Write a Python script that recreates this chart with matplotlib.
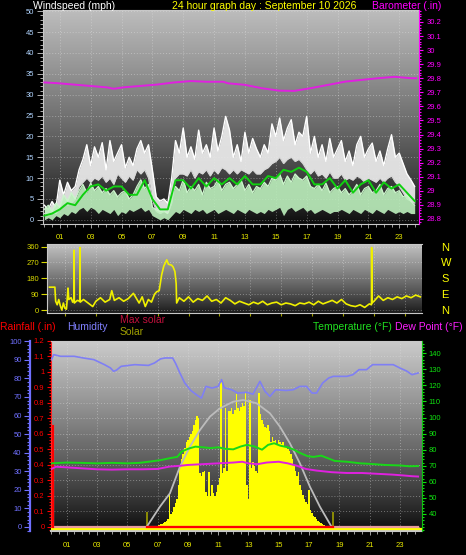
import numpy as np
import matplotlib
matplotlib.use("Agg")
import matplotlib.pyplot as plt
from matplotlib.ticker import MultipleLocator

plt.rcParams['font.family'] = ['Liberation Sans', 'DejaVu Sans']

# ---------------------------------------------------------------- data
hour_ticks = [1, 3, 5, 7, 9, 11, 13, 15, 17, 19, 21, 23]
hour_labels = ['01', '03', '05', '07', '09', '11', '13', '15', '17', '19', '21', '23']

# wind (mph), quarter-hour samples 0..24 h
wind_hours = np.arange(0, 24.01, 0.25)
gust_max = [3.5, 2.5, 4.4, 3.0,  9.5, 6.0, 9.0, 7.0,  8.0, 12.0, 14.5, 18.0,
            13.0, 17.5, 15.0, 18.5,  12.0, 19.0, 14.0, 16.0,  18.0, 12.5, 15.0, 13.0,
            17.0, 19.0, 16.0, 18.0,  12.0, 5.5, 4.5, 5.0,  4.0, 10.0, 19.0, 16.0,
            22.0, 15.0, 17.5, 14.5,  21.5, 16.0, 18.0, 15.0,  22.0, 16.5, 20.0, 24.8,
            21.5, 15.0, 18.0, 14.0,  21.0, 16.0, 19.5, 17.0,  15.0, 18.0, 16.0, 23.0,
            20.0, 24.4, 19.0, 22.0,  24.0, 18.0, 21.0, 20.0,  24.8, 16.0, 20.0, 15.0,
            18.0, 14.0, 19.5, 15.0,  17.0, 19.0, 14.0, 16.5,  13.0, 18.0, 20.0, 15.0,
            17.0, 18.4, 14.0, 16.5,  13.0, 17.0, 20.4, 15.0,  16.0, 13.5, 11.0, 9.6, 8.0]
gust_low = [1.5, 1.0, 2.0, 1.5,  3.0, 4.0, 3.5, 4.0,  5.0, 8.0, 9.0, 10.0,
            9.0, 10.0, 9.5, 10.5,  9.0, 10.0, 8.5, 11.0,  10.0, 9.0, 10.5, 9.5,
            12.0, 11.0, 12.0, 10.0,  5.0, 2.0, 1.5, 2.0,  1.5, 4.0, 10.0, 11.0,
            11.0, 10.5, 12.0, 10.0,  11.5, 11.0, 12.0, 10.5,  12.0, 11.0, 12.5, 12.0,
            11.0, 12.0, 11.0, 12.0,  11.5, 11.0, 12.0, 11.0,  11.0, 12.0, 12.5, 13.5,
            14.0, 15.0, 13.5, 14.5,  15.0, 14.0, 14.5, 13.5,  12.0, 11.0, 12.0, 10.5,
            11.0, 10.0, 11.5, 10.0,  10.0, 11.0, 9.5, 10.0,  9.5, 10.5, 10.0, 9.0,
            10.0, 9.5, 9.0, 10.0,  9.0, 10.0, 10.5, 9.0,  8.0, 6.5, 5.0, 4.5, 4.0]
speed_max = [2.5, 3.5, 2.0, 4.0,  3.0, 6.0, 4.5, 6.5,  5.0, 7.0, 8.5, 6.5,
             8.8, 7.0, 8.0, 6.5,  7.5, 6.0, 7.0, 5.5,  6.5, 7.0, 5.0, 6.0,
             8.0, 9.6, 7.5, 8.5,  3.0, 2.4, 2.0, 2.2,  1.5, 6.0, 8.0, 7.0,
             9.6, 6.5, 8.0, 7.0,  8.5, 6.0, 9.0, 7.5,  8.0, 9.6, 7.0, 8.5,
             9.0, 7.5, 8.5, 9.6,  7.0, 8.5, 6.5, 8.0,  7.5, 9.0, 8.0, 10.0,
             9.5, 11.0, 8.5, 10.5,  9.0, 11.0, 10.0, 9.5,  10.5, 8.0, 7.5, 8.5,
             7.0, 8.8, 6.5, 7.5,  8.0, 6.5, 7.5, 6.0,  7.0, 8.5, 6.0, 7.5,
             8.0, 6.5, 7.0, 8.5,  6.0, 7.5, 8.0, 6.5,  7.0, 5.5, 6.0, 4.5, 3.5]
speed_low = [0.0, 0.5, 0.0, 1.0,  0.5, 1.5, 1.0, 2.0,  1.5, 2.5, 3.0, 2.0,
             3.0, 2.5, 1.5, 2.5,  2.0, 1.5, 2.5, 1.0,  2.0, 1.5, 2.5, 2.0,
             2.5, 3.0, 2.0, 2.5,  1.0, 0.5, 0.0, 0.5,  0.0, 1.0, 2.0, 1.5,
             2.5, 2.0, 1.5, 2.5,  2.0, 2.5, 1.5, 2.0,  2.5, 1.5, 2.0, 2.5,
             2.0, 1.5, 2.5, 2.0,  1.5, 2.5, 2.0, 1.5,  2.0, 1.5, 2.5, 2.0,
             2.5, 3.0, 1.0, 2.5,  3.0, 2.0, 2.5, 3.0,  2.0, 2.5, 1.5, 2.0,
             2.5, 2.0, 1.5, 2.0,  2.0, 2.5, 2.0, 1.5,  2.5, 2.0, 1.5, 2.5,
             2.0, 1.5, 2.5, 2.0,  1.5, 2.5, 2.0, 1.5,  2.0, 1.5, 2.0, 1.5, 1.5]
avg_hours = np.arange(0, 24.01, 0.5)
wind_avg = [1.0, 1.5, 2.5, 4.0, 3.5, 6.0, 8.0, 8.5, 7.0, 8.0, 8.0, 6.0,
            6.0, 9.5, 5.0, 2.5, 2.5, 9.5, 9.5, 7.5, 10.0, 8.0, 10.0, 8.5,
            10.0, 8.5, 10.5, 8.5, 8.5, 10.5, 10.0, 12.0, 11.5, 12.5, 11.5, 8.5,
            8.5, 10.0, 7.5, 9.5, 6.5, 8.5, 9.5, 6.5, 9.0, 7.5, 8.5, 6.5, 4.5]

baro_hours = [0.0, 0.83, 1.9, 3.0, 4.06, 4.5, 5.1, 6.2, 7.3, 8.4, 9.5, 10.5, 11.6,
              11.9, 13.0, 14.1, 15.2, 16.2, 17.3, 18.4, 19.5, 20.55, 21.6, 22.7, 23.8, 24.1]
baro = [29.770, 29.765, 29.755, 29.745, 29.735, 29.725, 29.735, 29.745, 29.755, 29.770,
        29.780, 29.775, 29.775, 29.764, 29.753, 29.729, 29.712, 29.710, 29.730, 29.753,
        29.776, 29.788, 29.800, 29.810, 29.800, 29.800]
baro_ticks = [28.8, 28.9, 29.0, 29.1, 29.2, 29.3, 29.4, 29.5, 29.6, 29.7, 29.8, 29.9, 30.0, 30.1, 30.2]
baro_labels = ['28.8', '28.9', '29', '29.1', '29.2', '29.3', '29.4', '29.5', '29.6',
               '29.7', '29.8', '29.9', '30', '30.1', '30.2']

# wind direction (degrees)
dir_hours = [0.0, 0.35, 0.4, 0.5, 0.6, 0.7, 0.8, 0.9, 1.0, 1.1, 1.2, 1.25, 1.4, 1.5, 1.58, 1.59,
             1.61, 1.8, 1.96, 1.97, 1.99, 2.2, 2.5, 2.8, 3.0, 3.3, 3.6, 3.9, 4.03, 4.2, 4.5, 4.8,
             5.1, 5.43, 5.6, 5.8, 6.0, 6.2, 6.4, 6.6, 6.8, 6.94, 7.1, 7.26, 7.4, 7.59, 7.7, 7.9,
             8.0, 8.12, 8.2, 8.23, 8.4, 8.7, 9.0, 9.3, 9.6, 9.9, 10.2, 10.5, 10.8, 11.1, 11.4,
             11.7, 12.0, 12.3, 12.6, 12.9, 13.2, 13.5, 13.8, 14.1, 14.4, 14.7, 15.0, 15.3, 15.6,
             15.9, 16.2, 16.5, 16.8, 17.1, 17.4, 17.7, 18.0, 18.3, 18.6, 18.9, 19.2, 19.5, 19.8,
             20.1, 20.4, 20.7, 20.84, 20.85, 20.87, 21.0, 21.3, 21.6, 21.9, 22.2, 22.5, 22.8,
             23.1, 23.4, 23.7, 24.0]
dir_values = [130, 130, 50, 30, 60, 25, 0, 40, 10, 5, 125, 60, 70, 45, 60, 340,
              40, 55, 50, 355, 45, 60, 40, 20, 50, 70, 45, 60, 110, 55, 70, 50,
              65, 95, 70, 40, 75, 20, 60, 45, 90, 104, 110, 200, 250, 285, 260, 255,
              245, 218, 150, 40, 70, 50, 75, 45, 65, 55, 80, 50, 60, 40, 70,
              55, 35, 50, 40, 30, 45, 35, 50, 30, 40, 45, 30, 40, 35,
              25, 40, 35, 45, 30, 50, 35, 45, 55, 40, 60, 35, 25, 20,
              30, 15, 35, 30, 355, 40, 50, 80, 55, 70, 60, 75, 65,
              80, 70, 85, 75]
compass_labels = ['N', 'E', 'S', 'W', 'N']

# bottom panel
rain_hours = [0.12, 0.12, 24.2]
rain = [0.65, 0.0, 0.0]

hum_hours = [0.0, 0.15, 0.6, 1.5, 2.1, 2.8, 3.5, 3.9, 4.1, 4.3, 4.6, 5.5, 6.4, 6.8, 7.2, 7.5,
             8.0, 8.2, 8.48, 8.8, 9.2, 9.6, 9.9, 10.2, 10.6, 11.0, 11.23, 11.4, 11.9, 12.3,
             12.9, 13.3, 13.76, 14.1, 14.42, 14.8, 15.5, 15.96, 16.4, 16.84, 17.2, 17.5, 17.9,
             18.3, 18.6, 19.5, 19.9, 20.3, 20.8, 21.2, 22.0, 22.56, 23.0, 23.44, 23.8, 24.2]
humidity = [90.1, 92.8, 91.9, 91.9, 91.0, 90.1, 87.4, 85.6, 83.8, 84.5, 86.5, 87.4, 87.0, 88.3,
            90.5, 91.0, 91.0, 88.0, 82.9, 77.5, 73.5, 71.0, 69.4, 75.7, 74.8, 75.7, 79.3, 75.0,
            73.9, 72.1, 72.5, 71.5, 78.4, 73.0, 70.3, 73.9, 73.5, 73.9, 75.7, 75.7, 72.1, 72.1,
            77.5, 80.2, 81.1, 81.1, 82.0, 84.7, 84.7, 87.4, 87.4, 87.4, 85.6, 84.0, 82.0, 82.9]

temp_hours = [0.0, 1.0, 2.0, 3.0, 4.0, 5.0, 5.8, 6.5, 7.2, 7.8, 8.3, 8.6, 9.0, 9.5, 10.0, 10.5,
              11.0, 11.5, 12.0, 12.5, 12.9, 13.4, 13.9, 14.3, 14.7, 15.1, 15.6, 16.0, 16.4,
              16.9, 17.3, 17.8, 18.3, 18.7, 19.5, 20.4, 21.0, 22.0, 23.0, 23.6, 24.2]
temperature = [71.5, 72.0, 71.8, 71.5, 71.8, 71.5, 71.8, 72.6, 73.5, 74.7, 75.5, 78.8, 80.5,
               81.9, 81.5, 81.0, 81.5, 80.5, 80.2, 82.0, 83.0, 82.0, 80.0, 83.0, 84.0, 82.5,
               81.5, 80.0, 78.0, 76.0, 75.5, 76.3, 74.5, 73.0, 72.5, 71.5, 71.2, 70.5, 70.2,
               69.7, 69.8]

dew_hours = [0.0, 0.3, 1.0, 2.0, 3.0, 4.0, 5.0, 6.0, 7.0, 7.8, 8.5, 9.0, 10.0, 11.0, 12.0, 12.6,
             13.0, 13.6, 14.2, 15.0, 15.6, 16.2, 16.8, 17.5, 18.5, 19.5, 20.5, 21.5, 22.5,
             23.2, 23.8, 24.2]
dewpoint = [68.0, 69.4, 69.0, 68.4, 67.8, 67.6, 67.8, 67.8, 68.0, 69.5, 70.0, 70.5, 71.0, 71.5,
            72.0, 72.5, 71.5, 71.0, 72.0, 72.5, 71.5, 70.0, 68.0, 67.0, 66.0, 65.5, 65.5, 65.0,
            64.5, 64.0, 63.5, 63.3]

solar_hours = np.round(np.arange(6.3, 18.45, 0.1), 2)
solar = [0, 0, 0, 0, 2, 3,
         5, 10, 15, 20, 25, 30, 35, 45, 60, 240, 90,
         110, 140, 170, 200, 300, 430, 480, 520, 560, 600,
         620, 640, 660, 680, 720, 760, 790, 770, 380, 360,
         390, 400, 250, 220, 390, 220, 300, 240, 220, 250,
         300, 350, 1040, 380, 420, 840, 400, 820, 820, 840,
         800, 830, 940, 840, 820, 850, 880, 860, 960, 300,
         200, 900, 420, 460, 430, 400, 380, 950, 800, 760,
         730, 710, 700, 720, 680, 600, 640, 610, 620, 590,
         620, 600, 590, 600, 570, 560, 550, 540, 520, 480,
         440, 400, 360, 390, 300, 260, 230, 200, 180, 160,
         260, 120, 100, 80, 70, 55, 45, 35, 28, 20,
         15, 10, 6, 3, 0]
maxsolar_hours = [6.28, 7.16, 7.82, 8.48, 9.14, 9.8, 10.46, 11.12, 12.0, 12.66, 13.54, 14.42,
                  15.08, 15.74, 16.4, 17.06, 17.72, 18.5]
maxsolar = [0, 144, 239, 427, 569, 687, 782, 841, 888, 900, 877, 806, 711, 593, 451, 286, 144, 0]
sun_events = [6.28, 18.58]
sun_marker = [110, 110]

rain_ticks = [0, 0.1, 0.2, 0.3, 0.4, 0.5, 0.6, 0.7, 0.8, 0.9, 1.0, 1.1, 1.2]
rain_labels = ['0', '0.1', '0.2', '0.3', '0.4', '0.5', '0.6', '0.7', '0.8', '0.9', '1', '1.1', '1.2']

# ---------------------------------------------------------------- figure
W, H = 466, 555
fig = plt.figure(figsize=(W / 100, H / 100), dpi=100, facecolor='black')


def px_axes(x0, y0, x1, y1):
    return fig.add_axes([x0 / W, 1 - y1 / H, (x1 - x0) / W, (y1 - y0) / H])


def shade(ax, top, bottom, gamma):
    f = np.linspace(0, 1, 256)[:, None]
    v = bottom + (top - bottom) * f ** gamma
    img = np.dstack([v, v, v])
    ax.imshow(img, extent=[0, 1, 0, 1], transform=ax.transAxes, origin='lower',
              aspect='auto', zorder=0, interpolation='bilinear')


def ftext(x, y, s, color, size=7.5, ha='left', va='center'):
    fig.text(x / W, 1 - y / H, s, color=color, fontsize=size, ha=ha, va=va)


def grid(ax):
    ax.set_axisbelow(True)
    ax.grid(True, which='major', color='#e8e8e8', alpha=0.4, lw=0.7, ls=(0, (1, 2)))


FRAME = '#c8c8c8'

# ---------------- top panel: wind + barometer
ax1 = px_axes(42.5, 10, 419.3, 224)
shade(ax1, 0.74, 0.04, 0.8)
ax1.fill_between(wind_hours, gust_low, gust_max, color='#ececec', alpha=0.92, lw=0, zorder=2)
ax1.plot(wind_hours, gust_max, color='#ffffff', lw=1.0, zorder=3)
ax1.plot(wind_hours, gust_low, color='#d8d8d8', lw=0.8, zorder=3)
ax1.fill_between(wind_hours, speed_low, speed_max, color='#bdf0bd', alpha=0.9, lw=0, zorder=4)
ax1.plot(wind_hours, speed_max, color='#ccf6cc', lw=0.9, zorder=4)
ax1.plot(avg_hours, wind_avg, color='#10d010', lw=1.4, zorder=5)
ax1.set_xlim(-0.12, 24.3)
ax1.set_ylim(-1, 50.3)
ax1.set_yticks(np.arange(0, 51, 5))
ax1.yaxis.set_minor_locator(MultipleLocator(1))
ax1.tick_params(axis='y', which='both', colors='#b0b0b0', labelcolor='#b0d4ff',
                labelsize=5.5, direction='out', length=4, width=0.7, pad=2)
ax1.tick_params(axis='y', which='minor', length=2)
ax1.set_xticks(hour_ticks)
ax1.set_xticklabels(hour_labels)
ax1.xaxis.set_minor_locator(MultipleLocator(0.5))
ax1.tick_params(axis='x', which='both', colors='#a0a0a0', labelcolor='#e8e800',
                labelsize=5.5, length=3, width=0.7, pad=4.5)
ax1.tick_params(axis='x', which='minor', length=2)
grid(ax1)
for s in ['left', 'bottom', 'top']:
    ax1.spines[s].set_color(FRAME)
ax1.spines['right'].set_visible(False)

axb = ax1.twinx()
axb.plot(baro_hours, baro, color='#e020e0', lw=1.4)
axb.set_xlim(-0.12, 24.3)
axb.set_ylim(28.764, 30.285)
axb.set_yticks(baro_ticks)
axb.set_yticklabels(baro_labels)
axb.yaxis.set_minor_locator(MultipleLocator(0.02))
axb.tick_params(axis='y', which='both', colors='#ff00ff', labelsize=5.5, length=3, width=0.8, pad=2)
axb.tick_params(axis='y', which='minor', length=1.5)
for s in ['left', 'bottom', 'top']:
    axb.spines[s].set_visible(False)
axb.spines['right'].set_color('#ff00ff')

ftext(33, 6, 'Windspeed (mph)', 'white')
ftext(172, 6, '24 hour graph day : September 10 2026', '#ffff00')
ftext(372, 6, 'Barometer (.in)', '#ff00ff')

# ---------------- middle panel: wind direction
ax2 = px_axes(47, 244, 421.7, 312.7)
shade(ax2, 0.76, 0.10, 0.9)
ax2.plot(dir_hours, dir_values, color='#f0f000', lw=1.2, zorder=3)
ax2.set_xlim(-0.16, 24.09)
ax2.set_ylim(-15, 375)
ax2.set_yticks([0, 90, 180, 270, 360])
ax2.tick_params(axis='y', colors='#d8d800', labelsize=5.5, length=4.5, width=0.8, pad=1)
ax2.set_xticks(hour_ticks)
ax2.set_xticklabels([])
ax2.tick_params(axis='x', colors='#a0a000', length=2)
grid(ax2)
for s in ['left', 'bottom', 'top']:
    ax2.spines[s].set_color(FRAME)
ax2.spines['right'].set_visible(False)

axc = ax2.twinx()
axc.set_ylim(-15, 375)
axc.set_yticks([0, 90, 180, 270, 360])
axc.set_yticklabels(compass_labels)
axc.tick_params(axis='y', colors='#ffff00', labelsize=8, length=0, pad=14)
for s in axc.spines.values():
    s.set_visible(False)

# ---------------- bottom panel
ax3 = px_axes(50.7, 340.7, 421.7, 530.7)
shade(ax3, 0.80, 0.04, 0.85)
ax3.set_xlim(-0.05, 24.44)
ax3.set_ylim(-0.026, 1.2)
ax3.set_yticks(rain_ticks)
ax3.set_yticklabels(rain_labels)
ax3.yaxis.set_minor_locator(MultipleLocator(0.02))
ax3.tick_params(axis='y', which='both', colors='#ff0000', labelsize=5.5, length=3, width=0.8, pad=1.5)
ax3.tick_params(axis='y', which='minor', length=1.5)
ax3.set_xticks(hour_ticks)
ax3.set_xticklabels(hour_labels)
ax3.xaxis.set_minor_locator(MultipleLocator(0.5))
ax3.tick_params(axis='x', which='both', colors='#a0a0a0', labelcolor='#e8e800',
                labelsize=5.5, length=3, width=0.7, pad=5)
ax3.tick_params(axis='x', which='minor', length=2)
grid(ax3)
ax3.spines['left'].set_color('#ff2020')
ax3.spines['bottom'].set_color(FRAME)
ax3.spines['bottom'].set_linewidth(1.5)
ax3.spines['top'].set_color(FRAME)
ax3.spines['right'].set_visible(False)

# solar
axs = ax3.twinx()
axs.set_xlim(-0.05, 24.44)
axs.set_ylim(-26, 1320)
axs.fill_between(solar_hours, 0, solar, color='#ffff00', lw=0, step='mid', zorder=2)
axs.vlines(sun_events, 0, sun_marker, color='#a0a000', lw=1.2, zorder=3)
axs.plot(maxsolar_hours, maxsolar, color='#bcbcbc', lw=1.3, zorder=4)
axs.plot([-0.05, 24.44], [-16, -16], color='#ffff00', lw=1.6, zorder=4)
axs.set_yticks([])
for s in axs.spines.values():
    s.set_visible(False)

# rain
axr = ax3.twinx()
axr.set_xlim(-0.05, 24.44)
axr.set_ylim(-0.026, 1.2)
axr.plot(rain_hours, rain, color='#e89a9a', lw=1.6, zorder=3)
axr.plot(sun_events, [0, 0], color='#ff0000', lw=1.6, zorder=4)
axr.plot(rain_hours[:2], rain[:2], color='#ff0000', lw=1.6, zorder=4)
axr.set_yticks([])
for s in axr.spines.values():
    s.set_visible(False)

# humidity
axh = ax3.twinx()
axh.set_xlim(-0.05, 24.44)
axh.set_ylim(-2, 100.3)
axh.plot(hum_hours, humidity, color='#7f7ff4', lw=1.2)
axh.spines['left'].set_position(('axes', (30 - 50.7) / 371.0))
axh.spines['left'].set_visible(True)
axh.spines['left'].set_color('#6f6fff')
axh.spines['left'].set_linewidth(1.6)
for s in ['right', 'top', 'bottom']:
    axh.spines[s].set_visible(False)
axh.yaxis.set_ticks_position('left')
axh.yaxis.set_label_position('left')
axh.set_yticks(np.arange(0, 101, 10))
axh.yaxis.set_minor_locator(MultipleLocator(2))
axh.tick_params(axis='y', which='both', colors='#7070ff', labelsize=5.5, length=4.5, width=0.8, pad=1.5)
axh.tick_params(axis='y', which='minor', length=2)

# temperature / dew point
axt = ax3.twinx()
axt.set_xlim(-0.05, 24.44)
axt.set_ylim(29.6, 147.8)
axt.plot(dew_hours, dewpoint, color='#e020e0', lw=1.4)
axt.plot(temp_hours, temperature, color='#18d818', lw=1.4)
axt.set_yticks(np.arange(40, 141, 10))
axt.yaxis.set_minor_locator(MultipleLocator(2))
axt.tick_params(axis='y', which='both', colors='#10e010', labelsize=5.5, length=3, width=0.8, pad=2)
axt.tick_params(axis='y', which='minor', length=1.5)
for s in ['left', 'top', 'bottom']:
    axt.spines[s].set_visible(False)
axt.spines['right'].set_color('#10c010')

ftext(0, 327, 'Rainfall (.in)', '#ff0000')
ftext(67, 327, 'Humidity', '#8080ff')
ftext(120, 320, 'Max solar', '#c0103c')
ftext(120, 332, 'Solar', '#a0a000')
ftext(313, 327, 'Temperature (°F)', '#20e020')
ftext(395, 327, 'Dew Point (°F)', '#ff20ff')

fig.savefig('out.png', dpi=100, facecolor='black')
